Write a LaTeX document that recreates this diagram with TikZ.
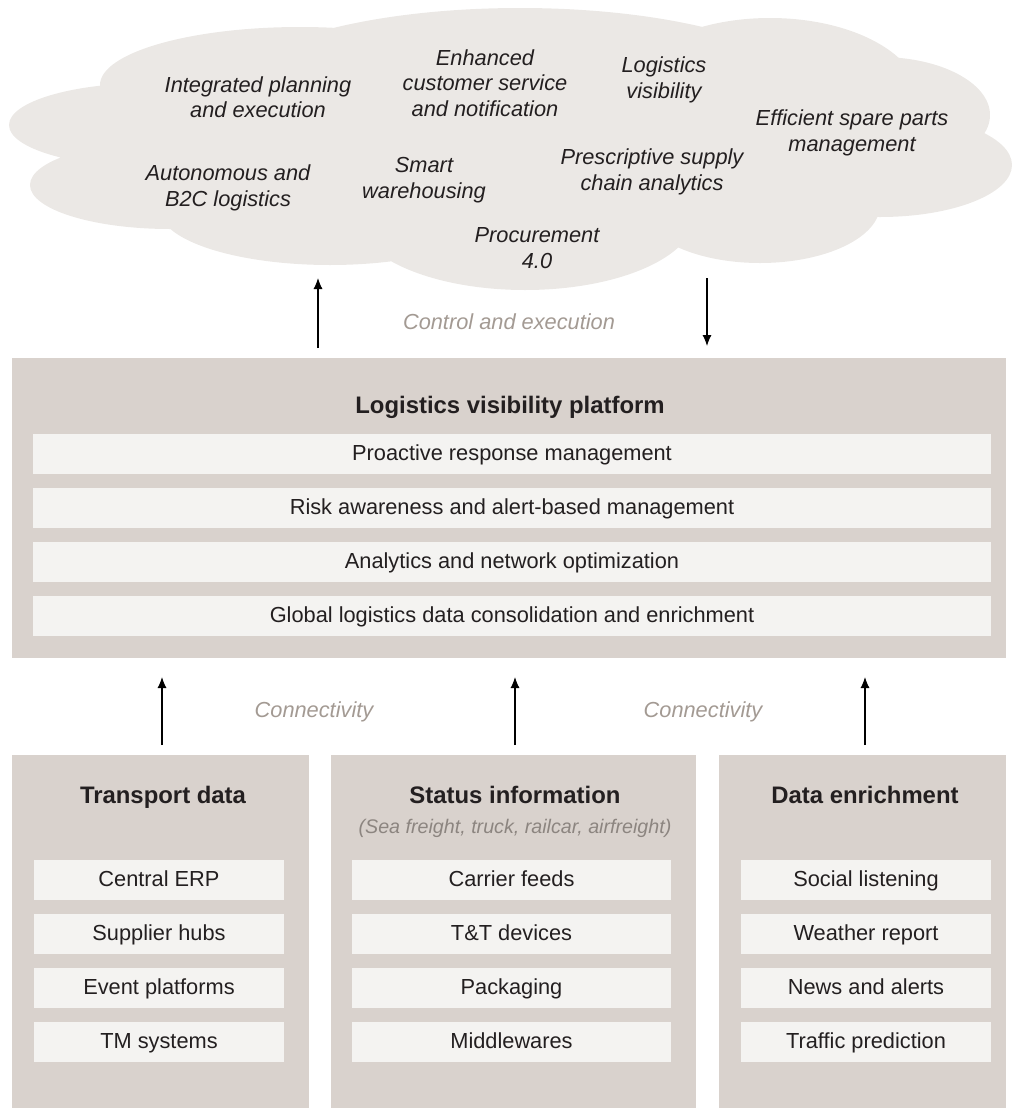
\documentclass[tikz,border=0pt]{standalone}
\usepackage{fontspec}
\setmainfont{Liberation Sans}
\usetikzlibrary{arrows.meta}

\definecolor{panelgray}{HTML}{D9D2CD}
\definecolor{barwhite}{HTML}{F4F3F1}
\definecolor{cloudgray}{HTML}{EBE8E5}
\definecolor{notegray}{HTML}{A39A93}
\definecolor{subgray}{HTML}{8C8580}
\definecolor{ink}{HTML}{231F20}

\begin{document}
\begin{tikzpicture}[x=0.02cm,y=-0.02cm,
		every node/.style={inner sep=0pt,text=ink,font=\fontsize{12.4}{14.5}\selectfont},
		oneline/.style={text height=0.78em,text depth=0pt},
		panel/.style={fill=panelgray},
		bar/.style={oneline,fill=barwhite,minimum height=0.8cm},
		heading/.style={oneline,font=\fontsize{13.6}{16}\selectfont\bfseries},
		cloudlbl/.style={align=center,font=\fontsize{12.4}{14.5}\selectfont\itshape},
		note/.style={oneline,text=notegray,font=\fontsize{12.4}{14.5}\selectfont\itshape},
		flow/.style={-{Latex[length=2.2mm,width=1.8mm]},line width=0.6pt}]
		\useasboundingbox (0,0) rectangle (1018,1109);

		% Cloud of use cases
		\fill[cloudgray] (150,125) ellipse [x radius=141,y radius=42]
			(300,85) ellipse [x radius=200,y radius=58]
			(520,100) ellipse [x radius=300,y radius=92]
			(770,100) ellipse [x radius=150,y radius=82]
			(880,115) ellipse [x radius=110,y radius=58]
			(880,165) ellipse [x radius=132,y radius=52]
			(760,205) ellipse [x radius=120,y radius=58]
			(525,215) ellipse [x radius=170,y radius=75]
			(170,185) ellipse [x radius=140,y radius=44]
			(330,210) ellipse [x radius=170,y radius=55]
			(520,150) ellipse [x radius=380,y radius=100];

		\node[cloudlbl] (plan) at (258,97) {Integrated planning\\and execution};
		\node[cloudlbl] (service) at (485,83) {Enhanced\\customer service\\and notification};
		\node[cloudlbl] (visib) at (664,80) {Logistics\\visibility};
		\node[cloudlbl] (spare) at (852,133) {Efficient spare parts\\management};
		\node[cloudlbl] (auto) at (228,188) {Autonomous and\\B2C logistics};
		\node[cloudlbl] (wareh) at (424,180) {Smart\\warehousing};
		\node[cloudlbl] (presc) at (652,172) {Prescriptive supply\\chain analytics};
		\node[cloudlbl] (procure) at (537,248) {Procurement\\4.0};

		% Control and execution
		\coordinate (upfoot) at (318,348);
		\coordinate (uptip) at (318,278);
		\coordinate (downfoot) at (707,278);
		\coordinate (downtip) at (707,346);
		\draw[flow] (upfoot) -- (uptip);
		\draw[flow] (downfoot) -- (downtip);
		\node[note] (ctrl) at (509,323) {Control and execution};

		% Platform
		\node[panel,minimum width=19.88cm,minimum height=6cm] (platform) at (509,508) {};
		\node[heading] (ptitle) at (510,407) {Logistics visibility platform};
		\foreach \y/\txt [count=\i] in {454/Proactive response management,
			508/Risk awareness and alert-based management,
			562/Analytics and network optimization,
			616/Global logistics data consolidation and enrichment} {
			\node[bar,minimum width=19.16cm] (layer\i) at (512,\y) {\txt};
		}

		% Connectivity
		\foreach \x [count=\i] in {162,515,865} {
			\coordinate (cfoot\i) at (\x,745);
			\coordinate (ctip\i) at (\x,677);
			\draw[flow] (cfoot\i) -- (ctip\i);
		}
		\node[note] (conn1) at (314,711) {Connectivity};
		\node[note] (conn2) at (703,711) {Connectivity};

		% Data sources
		\node[panel,minimum width=5.94cm,minimum height=7.06cm] (transport) at (160.5,931.5) {};
		\node[panel,minimum width=7.3cm,minimum height=7.06cm] (status) at (513.5,931.5) {};
		\node[panel,minimum width=5.74cm,minimum height=7.06cm] (enrich) at (862.5,931.5) {};

		\node[heading] (ttitle) at (163,797) {Transport data};
		\node[heading] (stitle) at (515,797) {Status information};
		\node[oneline,text=subgray,font=\fontsize{11.2}{13}\selectfont\itshape] (ssub) at (515,827)
			{(Sea freight, truck, railcar, airfreight)};
		\node[heading] (etitle) at (865,797) {Data enrichment};

		\foreach \y/\txt [count=\i] in {880/Central ERP, 934/Supplier hubs,
			988/Event platforms, 1042/TM systems} {
			\node[bar,minimum width=5cm] (tr\i) at (159,\y) {\txt};
		}
		\foreach \y/\txt [count=\i] in {880/Carrier feeds, 934/T\&T devices,
			988/Packaging, 1042/Middlewares} {
			\node[bar,minimum width=6.38cm] (st\i) at (511.5,\y) {\txt};
		}
		\foreach \y/\txt [count=\i] in {880/Social listening, 934/Weather report,
			988/News and alerts, 1042/Traffic prediction} {
			\node[bar,minimum width=5cm] (en\i) at (866,\y) {\txt};
		}
	\end{tikzpicture}
\end{document}
